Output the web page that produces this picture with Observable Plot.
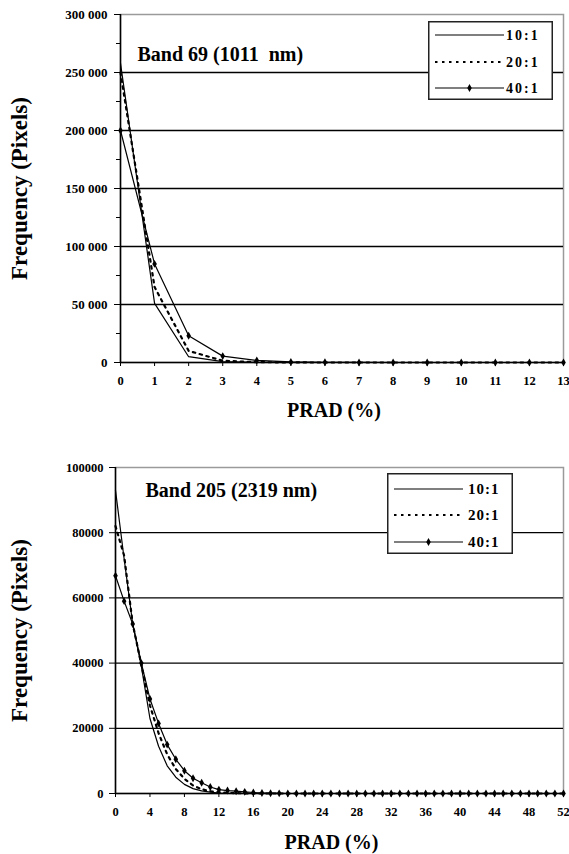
<!DOCTYPE html>
<html>
<head>
<meta charset="utf-8">
<script src="https://cdn.jsdelivr.net/npm/d3@7"></script>
<script src="https://cdn.jsdelivr.net/npm/@observablehq/plot@0.6"></script>
<style>
  body { margin: 0; background: #fff; }
  #wrap { position: relative; width: 569px; height: 854px; font-family: "Liberation Serif", "Times New Roman", serif; }
  #wrap > div.chart { position: absolute; left: 0; }
  #wrap svg text { font-family: "Liberation Serif", "Times New Roman", serif; font-weight: bold; }
</style>
</head>
<body>
<div id="wrap"></div>
<script>
// ---------- data ----------
const seriesNames = ["10:1", "20:1", "40:1"];

// Band 69 (1011 nm): PRAD 0..13 %
const prad69 = [0, 1, 2, 3, 4, 5, 6, 7, 8, 9, 10, 11, 12, 13];
const b69_10 = [258000, 51000, 5000, 700, 100, 0, 0, 0, 0, 0, 0, 0, 0, 0];
const b69_20 = [250000, 65000, 10000, 1500, 300, 50, 0, 0, 0, 0, 0, 0, 0, 0];
const b69_40 = [200000, 85000, 23000, 5500, 1800, 500, 150, 50, 0, 0, 0, 0, 0, 0];
const yTicks69 = [0, 50000, 100000, 150000, 200000, 250000, 300000];
const yMinor69 = [25000, 75000, 125000, 175000, 225000, 275000];
const grid69 = [50000, 100000, 150000, 200000, 250000];
const xTicks69 = [0, 1, 2, 3, 4, 5, 6, 7, 8, 9, 10, 11, 12, 13];

// Band 205 (2319 nm): PRAD 0..52 %
const prad205 = d3.range(0, 53);
const b205_10 = [93000, 72000, 52000, 39000, 23000, 14500, 8500, 5000, 2800, 1500, 800, 400, 150, 50, 0, 0, 0, 0, 0, 0, 0, 0, 0, 0, 0, 0, 0, 0, 0, 0, 0, 0, 0, 0, 0, 0, 0, 0, 0, 0, 0, 0, 0, 0, 0, 0, 0, 0, 0, 0, 0, 0, 0];
const b205_20 = [82000, 73000, 52000, 39500, 27000, 18500, 12000, 7500, 4500, 2500, 1300, 700, 400, 200, 100, 50, 0, 0, 0, 0, 0, 0, 0, 0, 0, 0, 0, 0, 0, 0, 0, 0, 0, 0, 0, 0, 0, 0, 0, 0, 0, 0, 0, 0, 0, 0, 0, 0, 0, 0, 0, 0, 0];
const b205_40 = [66800, 59000, 52000, 40000, 29000, 21500, 15000, 10500, 7000, 4700, 3300, 2000, 1200, 900, 700, 500, 300, 150, 100, 50, 0, 0, 0, 0, 0, 0, 0, 0, 0, 0, 0, 0, 0, 0, 0, 0, 0, 0, 0, 0, 0, 0, 0, 0, 0, 0, 0, 0, 0, 0, 0, 0, 0];
const yTicks205 = [0, 20000, 40000, 60000, 80000, 100000];
const grid205 = [20000, 40000, 60000, 80000];
const xTicks205 = [0, 4, 8, 12, 16, 20, 24, 28, 32, 36, 40, 44, 48, 52];

const titles = ["Band 69 (1011\u00a0 nm)", "Band 205 (2319 nm)"];
const yTitle = "Frequency (Pixels)";
const xTitle = "PRAD (%)";

// ---------- helpers ----------
const FONT = '"Liberation Serif", "Times New Roman", serif';
const toRows = (xs, ys) => xs.map((x, i) => ({x, y: ys[i]}));

function fmtSpaced(v) { // "300 000" style
  if (v === 0) return "0";
  const s = String(v);
  return s.length > 3 ? s.slice(0, s.length - 3) + " " + s.slice(-3) : s;
}

function makeChart(cfg) {
  const r10 = toRows(cfg.xs, cfg.s10), r20 = toRows(cfg.xs, cfg.s20), r40 = toRows(cfg.xs, cfg.s40);
  return Plot.plot({
    width: 569,
    height: cfg.height,
    marginLeft: cfg.ml, marginRight: 6, marginTop: cfg.mt, marginBottom: cfg.mb,
    style: {fontFamily: FONT, fontWeight: "bold", color: "#000", background: "#fff", overflow: "visible"},
    x: {domain: cfg.xDomain},
    y: {domain: cfg.yDomain},
    marks: [
      Plot.frame({stroke: "#9a9a9a", strokeWidth: 1.5}),
      Plot.ruleY(cfg.grid, {stroke: "#000", strokeWidth: 1.3}),
      Plot.axisY({ticks: cfg.yMinor, tickSize: 4, tickFormat: () => "", label: null, stroke: "#000"}),
      Plot.axisY({ticks: cfg.yTicks, tickSize: 6, tickPadding: cfg.yPad, tickFormat: cfg.yFmt,
                  fontSize: cfg.yFont, label: null, stroke: "#000",
                  style: {letterSpacing: cfg.ySpacing}}),
      Plot.axisX({ticks: cfg.xTicks, tickSize: 4, tickPadding: 10, tickFormat: d => String(d),
                  fontSize: 12.5, label: null, stroke: "#000",
                  style: {letterSpacing: cfg.xSpacing}}),
      Plot.line(r10, {x: "x", y: "y", stroke: "#000", strokeWidth: 1.2}),
      Plot.line(r20, {x: "x", y: "y", stroke: "#000", strokeWidth: 2.2, strokeDasharray: "2.5,4.5"}),
      Plot.line(r40, {x: "x", y: "y", stroke: "#000", strokeWidth: 1.2}),
      Plot.dot(r40, {x: "x", y: "y", symbol: "diamond", r: 2.4, fill: "#000", stroke: "none"}),
      Plot.ruleX([cfg.xDomain[0]], {stroke: "#000", strokeWidth: 1.5}),
      Plot.ruleY([0], {stroke: "#000", strokeWidth: 1.5}),
      Plot.text([cfg.title], {frameAnchor: "top-left", textAnchor: "start", lineAnchor: "middle",
                 dx: cfg.titleDx, dy: cfg.titleDy, fontSize: 20, fontWeight: "bold", fill: "#000"}),
      Plot.text([yTitle], {frameAnchor: "left", textAnchor: "middle", lineAnchor: "middle", rotate: -90,
                 dx: cfg.yTitleDx, fontSize: 23, fontWeight: "bold", fill: "#000"}),
      Plot.text([xTitle], {frameAnchor: "bottom", textAnchor: "middle", lineAnchor: "middle",
                 dy: cfg.xTitleDy, dx: -8, fontSize: 20, fontWeight: "bold", fill: "#000"})
    ]
  });
}

function makeLegend(box, rows, fontSize, spacing, textX) {
  const svg = d3.create("svg").attr("width", box.w).attr("height", box.h)
    .style("position", "absolute").style("left", box.x + "px").style("top", box.y + "px")
    .style("overflow", "visible");
  svg.append("rect").attr("x", 0.75).attr("y", 0.75).attr("width", box.w - 1.5).attr("height", box.h - 1.5)
    .attr("fill", "#fff").attr("stroke", "#222").attr("stroke-width", 1.5);
  seriesNames.forEach((name, i) => {
    const y = rows[i];
    const line = svg.append("line").attr("x1", 7).attr("x2", 76).attr("y1", y).attr("y2", y)
      .attr("stroke", "#000").attr("stroke-width", i === 1 ? 2.2 : 1.2);
    if (i === 1) line.attr("stroke-dasharray", "2.5,4.5");
    if (i === 2) svg.append("path").attr("d", d3.symbol(d3.symbolDiamond, 18)()).attr("transform", `translate(41.5,${y})`).attr("fill", "#000");
    svg.append("text").attr("x", textX).attr("y", y).attr("dy", "0.35em")
      .attr("font-size", fontSize).attr("letter-spacing", spacing).text(name);
  });
  return svg.node();
}

// ---------- build ----------
const wrap = document.getElementById("wrap");

const chartTop = makeChart({
  xs: prad69, s10: b69_10, s20: b69_20, s40: b69_40,
  height: 430, ml: 120, mt: 14, mb: 68,
  xDomain: [0, 13], yDomain: [0, 300000],
  yTicks: yTicks69, yMinor: yMinor69, grid: grid69, xTicks: xTicks69,
  yFmt: fmtSpaced, yFont: 13, yPad: 7, ySpacing: "2.5px", xSpacing: "1px",
  title: titles[0], titleDx: 17, titleDy: 40, yTitleDx: -101, xTitleDy: 48
});
const d1 = document.createElement("div"); d1.className = "chart"; d1.style.top = "0px"; d1.appendChild(chartTop);
wrap.appendChild(d1);

const chartBottom = makeChart({
  xs: prad205, s10: b205_10, s20: b205_20, s40: b205_40,
  height: 424, ml: 115, mt: 37, mb: 61,
  xDomain: [0, 52], yDomain: [0, 100000],
  yTicks: yTicks205, yMinor: [], grid: grid205, xTicks: xTicks205,
  yFmt: d => String(d), yFont: 12.5, yPad: 6, ySpacing: "2.5px", xSpacing: "3px",
  title: titles[1], titleDx: 30, titleDy: 23, yTitleDx: -96, xTitleDy: 49
});
const d2 = document.createElement("div"); d2.className = "chart"; d2.style.top = "430px"; d2.appendChild(chartBottom);
wrap.appendChild(d2);

wrap.appendChild(makeLegend({x: 428, y: 21, w: 125, h: 79}, [14, 41, 67], 14, "2px", 78));
wrap.appendChild(makeLegend({x: 387, y: 473, w: 126, h: 81}, [16, 42, 69], 15, "1px", 81));
</script>
</body>
</html>
